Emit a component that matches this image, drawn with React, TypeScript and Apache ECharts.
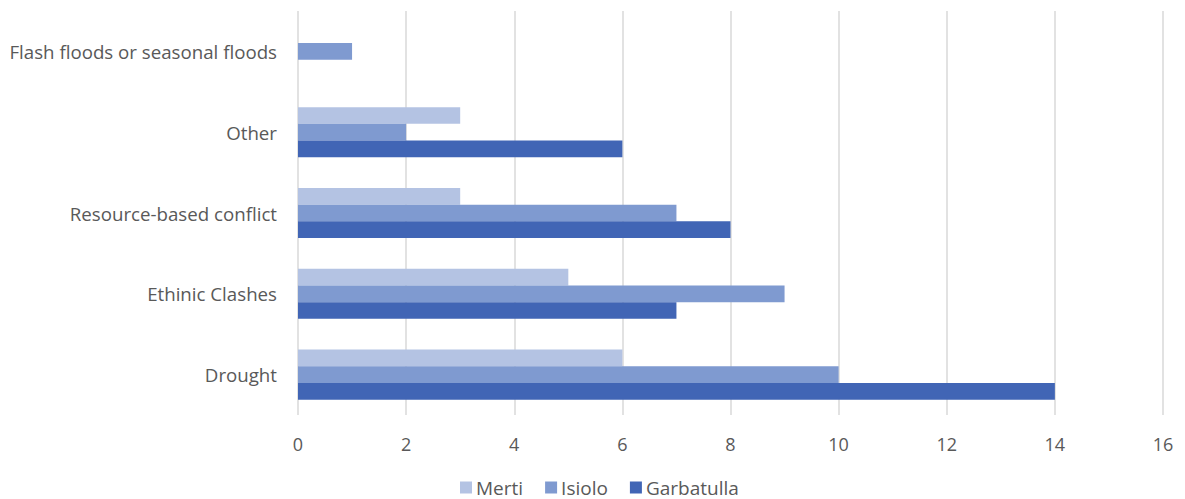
import React, { useEffect, useRef } from "react";
import * as echarts from "echarts";

const categories = ["Drought", "Ethinic Clashes", "Resource-based conflict", "Other", "Flash floods or seasonal floods"];
const merti = [6, 5, 3, 3, 0];
const isiolo = [10, 9, 7, 2, 1];
const garbatulla = [14, 7, 8, 6, 0];
const xTicks = { min: 0, max: 16, interval: 2 };

const FONT = "'Open Sans', 'Noto Sans', sans-serif";
const TEXT = "#595959";

export default function App() {
  const ref = useRef<HTMLDivElement>(null);
  useEffect(() => {
    const chart = echarts.init(ref.current!, null, { renderer: "svg" });
    chart.setOption({
      animation: false,
      textStyle: { fontFamily: FONT },
      grid: { left: 298, right: 22, top: 11, bottom: 84, containLabel: false },
      legend: {
        data: ["Merti", "Isiolo", "Garbatulla"],
        bottom: -3,
        left: 455,
        itemWidth: 12,
        itemHeight: 12,
        itemGap: 22,
        icon: "rect",
        textStyle: { color: TEXT, fontSize: 19, fontFamily: FONT, padding: [0, 0, 0, -1] },
      },
      xAxis: {
        type: "value",
        min: xTicks.min,
        max: xTicks.max,
        interval: xTicks.interval,
        axisLine: { show: false },
        axisTick: { show: false },
        axisLabel: { color: TEXT, fontSize: 18, margin: 20, fontFamily: FONT },
        splitLine: { show: true, lineStyle: { color: "#d9d9d9", width: 1.5 } },
      },
      yAxis: {
        type: "category",
        data: categories,
        axisLine: { show: false },
        axisTick: { show: false },
        axisLabel: { color: TEXT, fontSize: 18.7, margin: 21, fontFamily: FONT },
      },
      series: [
        { name: "Merti", type: "bar", data: merti, itemStyle: { color: "#b4c3e3" }, barGap: "0%", barCategoryGap: "38%" },
        { name: "Isiolo", type: "bar", data: isiolo, itemStyle: { color: "#7f9ad0" } },
        { name: "Garbatulla", type: "bar", data: garbatulla, itemStyle: { color: "#4165b5" } },
      ],
    });
    return () => chart.dispose();
  }, []);
  return <div ref={ref} style={{ width: 1185, height: 499, position: "absolute", left: 0, top: 0 }} />;
}
